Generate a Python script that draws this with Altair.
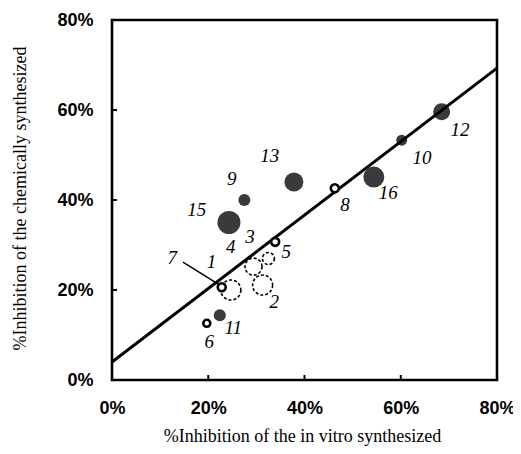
import altair as alt
import pandas as pd

# Filled circles
filled_id = ["12", "10", "16", "13", "9", "15/4", "11"]
filled_x = [68.5, 60.2, 54.4, 37.8, 27.5, 24.3, 22.4]
filled_y = [59.6, 53.3, 45.1, 44.0, 40.0, 35.0, 14.4]
filled_d = [17, 11, 21, 19, 12, 23, 12]

# Open (thick outline) circles
open_id = ["8", "5", "7/1", "6"]
open_x = [46.3, 33.9, 22.8, 19.7]
open_y = [42.6, 30.7, 20.6, 12.6]
open_d = [8, 8, 8, 7]

# Dashed circles
dash_x = [24.7, 31.3, 29.4, 32.5]
dash_y = [20.0, 21.1, 25.2, 27.0]
dash_d = [20, 20, 17, 12]

# Point labels
lab_text = ["1", "2", "3", "4", "5", "6", "7", "8", "9", "10", "11", "12", "13", "15", "16"]
lab_x = [20.7, 33.7, 28.7, 24.7, 36.2, 20.2, 12.5, 48.4, 24.9, 64.4, 25.2, 72.3, 32.8, 17.6, 57.4]
lab_y = [26.3, 17.4, 31.8, 29.6, 28.5, 8.5, 27.1, 38.9, 44.6, 49.4, 11.5, 55.6, 49.8, 37.8, 41.6]

# Regression line endpoints
line_x = [0, 80]
line_y = [4.0, 69.3]

# Pointer for label 7
ptr_x = [14.75, 22.4]
ptr_y = [26.2, 21.1]

tick_vals = [20, 40, 60]

xs = alt.Scale(domain=[0, 80], nice=False, zero=False)
ys = alt.Scale(domain=[0, 80], nice=False, zero=False)

filled_df = pd.DataFrame({"id": filled_id, "x": filled_x, "y": filled_y,
                          "s": [d * d for d in filled_d]})
open_df = pd.DataFrame({"id": open_id, "x": open_x, "y": open_y,
                        "s": [d * d for d in open_d]})
dash_df = pd.DataFrame({"x": dash_x, "y": dash_y, "s": [d * d for d in dash_d]})
lab_df = pd.DataFrame({"t": lab_text, "x": lab_x, "y": lab_y})
line_df = pd.DataFrame({"x": line_x, "y": line_y})
ptr_df = pd.DataFrame({"x": ptr_x, "y": ptr_y})
tick_df = pd.DataFrame({"v": tick_vals})

x_axis = alt.Axis(
    values=[0, 20, 40, 60, 80], title="%Inhibition of the in vitro synthesized",
    grid=False, ticks=False, tickSize=0, domain=False, labelFlush=False,
    labelFont="Liberation Sans", labelFontWeight="bold", labelFontSize=18, labelColor="black",
    labelPadding=19, labelExpr="datum.value + '%'",
    titleFont="Liberation Serif", titleFontWeight="normal", titleFontSize=18, titleColor="black",
    titleX=190, titleY=56, titleBaseline="middle", titleAlign="center",
)
y_axis = alt.Axis(
    values=[0, 20, 40, 60, 80], title="%Inhibition of the chemically synthesized",
    grid=False, ticks=False, tickSize=0, domain=False, labelFlush=False,
    labelFont="Liberation Sans", labelFontWeight="bold", labelFontSize=18, labelColor="black",
    labelPadding=19, labelExpr="datum.value + '%'", labelBaseline="middle",
    titleFont="Liberation Serif", titleFontWeight="normal", titleFontSize=18, titleColor="black",
    titleX=-92, titleY=178, titleAngle=-90, titleBaseline="middle", titleAlign="center",
)

base_dash = alt.Chart(dash_df).mark_point(
    shape="circle", filled=False, stroke="black", strokeWidth=1.6, strokeDash=[3, 2], opacity=1
).encode(
    x=alt.X("x:Q", scale=xs, axis=x_axis),
    y=alt.Y("y:Q", scale=ys, axis=y_axis),
    size=alt.Size("s:Q", scale=None, legend=None),
)

filled = alt.Chart(filled_df).mark_circle(color="#3a3a3a", opacity=1).encode(
    x=alt.X("x:Q", scale=xs),
    y=alt.Y("y:Q", scale=ys),
    size=alt.Size("s:Q", scale=None, legend=None),
)

reg = alt.Chart(line_df).mark_line(color="black", strokeWidth=3).encode(
    x=alt.X("x:Q", scale=xs),
    y=alt.Y("y:Q", scale=ys),
)

ptr = alt.Chart(ptr_df).mark_line(color="black", strokeWidth=1.5).encode(
    x=alt.X("x:Q", scale=xs),
    y=alt.Y("y:Q", scale=ys),
)

opens = alt.Chart(open_df).mark_point(
    shape="circle", filled=True, fill="white", stroke="black", strokeWidth=2.6, opacity=1
).encode(
    x=alt.X("x:Q", scale=xs),
    y=alt.Y("y:Q", scale=ys),
    size=alt.Size("s:Q", scale=None, legend=None),
)

labels = alt.Chart(lab_df).mark_text(
    font="Liberation Serif", fontStyle="italic", fontSize=19, color="black",
    align="center", baseline="middle"
).encode(
    x=alt.X("x:Q", scale=xs),
    y=alt.Y("y:Q", scale=ys),
    text="t:N",
)

xticks = alt.Chart(tick_df).mark_rule(color="black", strokeWidth=2).encode(
    x=alt.X("v:Q", scale=xs),
    y=alt.value(360), y2=alt.value(355),
)
yticks = alt.Chart(tick_df).mark_rule(color="black", strokeWidth=2).encode(
    y=alt.Y("v:Q", scale=ys),
    x=alt.value(0), x2=alt.value(5),
)

chart = alt.layer(base_dash, filled, reg, ptr, opens, labels, xticks, yticks).properties(
    width=385, height=360,
    autosize=alt.AutoSizeParams(type="none"),
    padding={"left": 104, "top": 12, "right": 16, "bottom": 66},
    background="white",
).configure_view(
    stroke="black", strokeWidth=2.6
)

chart.save("out.html", embed_options={"renderer": "svg", "actions": False})
